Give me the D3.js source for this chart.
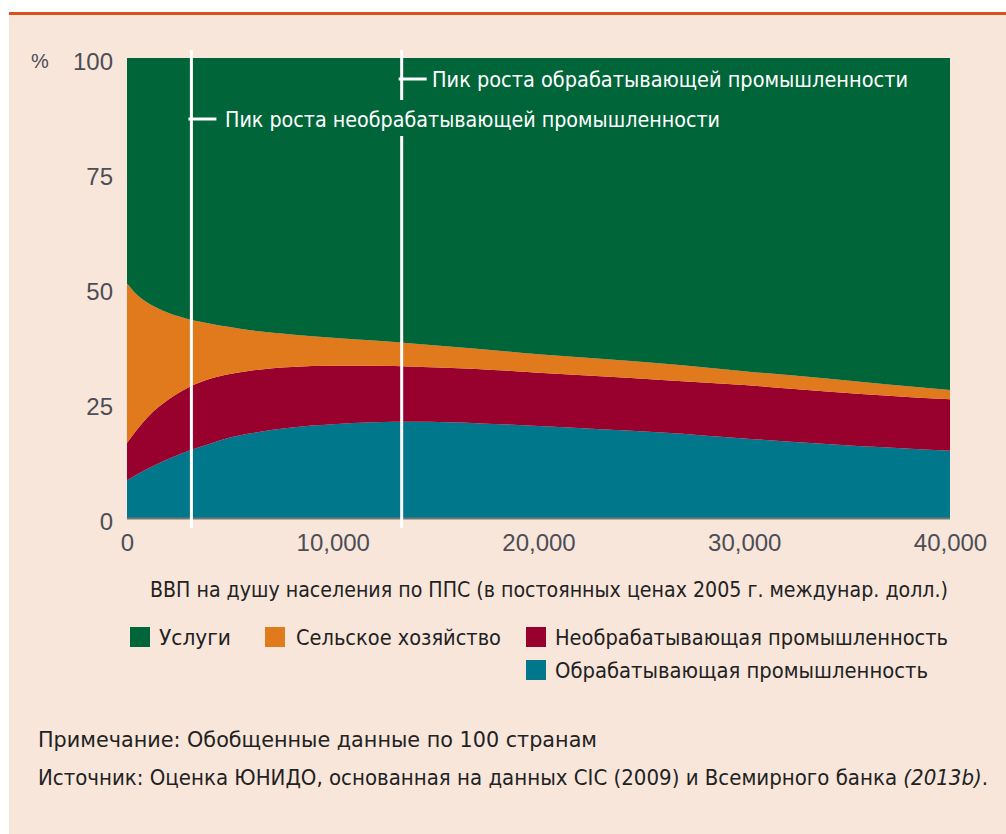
<!DOCTYPE html>
<html>
<head>
<meta charset="utf-8">
<script src="https://cdn.jsdelivr.net/npm/d3@7"></script>
<style>
  html, body { margin: 0; padding: 0; background: #ffffff; }
  svg { display: block; }
  text { font-family: "Liberation Sans Narrow", "DejaVu Sans Condensed", "Liberation Sans", sans-serif; }
</style>
</head>
<body>
<svg id="chart" width="1006" height="834"></svg>
<script>
// ---------------- DATA ----------------
const gdp = [0, 500, 1000, 1500, 2000, 3000, 4000, 5000, 6000, 8000, 10000, 12000, 14000, 17000, 20000, 23000, 26000, 30000, 34000, 37000, 40000];
const manufacturing    = [8.2, 9.5, 10.7, 11.8, 12.8, 14.6, 16.1, 17.5, 18.4, 19.7, 20.4, 20.8, 20.9, 20.6, 20.0, 19.3, 18.6, 17.3, 16.1, 15.3, 14.6];
const nonManufacturing = [8.1, 9.8, 11.2, 12.2, 12.9, 13.8, 14.1, 13.8, 13.6, 13.1, 12.7, 12.3, 12.0, 11.8, 11.6, 11.5, 11.4, 11.6, 11.4, 11.3, 11.2];
const agriculture      = [34.7, 29.2, 24.9, 21.6, 18.9, 14.8, 12.1, 10.2, 8.8, 7.1, 6.1, 5.5, 5.0, 4.4, 4.0, 3.8, 3.6, 3.0, 2.8, 2.4, 2.0];
const services         = [49.0, 51.5, 53.2, 54.4, 55.4, 56.8, 57.7, 58.5, 59.2, 60.1, 60.8, 61.4, 62.1, 63.2, 64.4, 65.4, 66.4, 68.1, 69.7, 71.0, 72.2];

const seriesKeys   = ["manufacturing", "nonManufacturing", "agriculture", "services"];
const seriesNames  = ["Обрабатывающая промышленность", "Необрабатывающая промышленность", "Сельское хозяйство", "Услуги"];
const seriesColors = ["#00778b", "#98002e", "#e07a1c", "#006639"];

const yTicks = [0, 25, 50, 75, 100];
const xTicks = [0, 10000, 20000, 30000, 40000];

const peakGdp    = [3130, 13350];
const peakLabels = ["Пик роста необрабатывающей промышленности", "Пик роста обрабатывающей промышленности"];

const yUnit = "%";
const xTitle = "ВВП на душу населения по ППС (в постоянных ценах 2005 г. междунар. долл.)";
const noteText = "Примечание: Обобщенные данные по 100 странам";
const sourceText = "Источник: Оценка ЮНИДО, основанная на данных CIC (2009) и Всемирного банка ";
const sourceItalic = "(2013b)";

// ---------------- CHART ----------------
const svg = d3.select("#chart");

// background panel
svg.append("rect").attr("x", 9).attr("y", 12).attr("width", 997).attr("height", 822).attr("fill", "#f8e6db");
svg.append("rect").attr("x", 9).attr("y", 12).attr("width", 997).attr("height", 3).attr("fill", "#d9531e");

const x = d3.scaleLinear().domain([0, 40000]).range([127, 950]);
const y = d3.scaleLinear().domain([0, 100]).range([518, 58]);

const rows = gdp.map((g, i) => ({
  gdp: g,
  manufacturing: manufacturing[i],
  nonManufacturing: nonManufacturing[i],
  agriculture: agriculture[i],
  services: services[i]
}));

const stack = d3.stack().keys(seriesKeys);
const layers = stack(rows);

const area = d3.area()
  .x(d => x(d.data.gdp))
  .y0(d => y(d[0]))
  .y1(d => y(Math.min(100, d[1])))
  .curve(d3.curveMonotoneX);

svg.append("g").selectAll("path")
  .data(layers)
  .join("path")
  .attr("d", area)
  .attr("fill", (d, i) => seriesColors[i]);

// baseline
svg.append("line")
  .attr("x1", x(0)).attr("x2", x(40000))
  .attr("y1", y(0) + 0.5).attr("y2", y(0) + 0.5)
  .attr("stroke", "#777777").attr("stroke-width", 2);

// y axis
const yAxis = svg.append("g")
  .attr("transform", `translate(${x(0)},0)`)
  .call(d3.axisLeft(y).tickValues(yTicks).tickSize(0).tickPadding(14));
yAxis.select(".domain").remove();
yAxis.selectAll("text")
  .attr("dy", "0.48em")
  .style("font-family", "'Liberation Sans', Arial, sans-serif")
  .style("font-size", "24px")
  .attr("fill", "#4d4d55");

// x axis
const xAxis = svg.append("g")
  .attr("transform", `translate(0,${y(0)})`)
  .call(d3.axisBottom(x).tickValues(xTicks).tickSize(0).tickPadding(16).tickFormat(d3.format(",")));
xAxis.select(".domain").remove();
xAxis.selectAll("text")
  .style("font-family", "'Liberation Sans', Arial, sans-serif")
  .style("font-size", "24px")
  .attr("fill", "#4d4d55");

// unit
svg.append("text")
  .attr("x", 40).attr("y", 68)
  .attr("text-anchor", "middle")
  .style("font-family", "'Liberation Sans', Arial, sans-serif")
  .style("font-size", "20px")
  .attr("fill", "#4d4d55")
  .text(yUnit);

// peak lines
const lineTop = 50, lineBottom = 528;
const gapTop = 100, gapBottom = 136;
peakGdp.forEach((g, i) => {
  const px = x(g);
  if (i === 1) {
    svg.append("line").attr("x1", px).attr("x2", px).attr("y1", lineTop).attr("y2", gapTop)
      .attr("stroke", "#ffffff").attr("stroke-width", 3);
    svg.append("line").attr("x1", px).attr("x2", px).attr("y1", gapBottom).attr("y2", lineBottom)
      .attr("stroke", "#ffffff").attr("stroke-width", 3);
  } else {
    svg.append("line").attr("x1", px).attr("x2", px).attr("y1", lineTop).attr("y2", lineBottom)
      .attr("stroke", "#ffffff").attr("stroke-width", 3);
  }
});
// annotation ticks + labels
const annY = [119, 79];
const annLen = [[225, 720], [432, 908]];
peakGdp.forEach((g, i) => {
  const px = x(g);
  svg.append("line")
    .attr("x1", px - 3).attr("x2", px + 25)
    .attr("y1", annY[i]).attr("y2", annY[i])
    .attr("stroke", "#ffffff").attr("stroke-width", 3);
  svg.append("text")
    .attr("x", annLen[i][0]).attr("y", annY[i] + 8)
    .attr("textLength", annLen[i][1] - annLen[i][0])
    .attr("lengthAdjust", "spacingAndGlyphs")
    .style("font-size", "22px")
    .attr("fill", "#ffffff")
    .text(peakLabels[i]);
});

// x title
svg.append("text")
  .attr("x", 150).attr("y", 597)
  .attr("textLength", 798)
  .attr("lengthAdjust", "spacingAndGlyphs")
  .style("font-size", "22px")
  .attr("fill", "#222222")
  .text(xTitle);

// legend
const legendOrder = [3, 2, 1, 0];
const legendPos = [[130, 627, 159, 231], [265, 627, 296, 501], [526, 627, 555, 948], [526, 660, 555, 928]];
legendOrder.forEach((si, k) => {
  const p = legendPos[k];
  svg.append("rect")
    .attr("x", p[0]).attr("y", p[1]).attr("width", 20).attr("height", 20)
    .attr("fill", seriesColors[si]);
  svg.append("text")
    .attr("x", p[2]).attr("y", p[1] + 18)
    .attr("textLength", p[3] - p[2])
    .attr("lengthAdjust", "spacingAndGlyphs")
    .style("font-size", "22px")
    .attr("fill", "#222222")
    .text(seriesNames[si]);
});

// footnotes
svg.append("text")
  .attr("x", 38).attr("y", 747)
  .attr("textLength", 559)
  .attr("lengthAdjust", "spacingAndGlyphs")
  .style("font-size", "21px")
  .attr("fill", "#222222")
  .text(noteText);

const src = svg.append("text")
  .attr("x", 38).attr("y", 785)
  .attr("textLength", 950)
  .attr("lengthAdjust", "spacingAndGlyphs")
  .style("font-size", "21px")
  .attr("fill", "#222222");
src.append("tspan").text(sourceText);
src.append("tspan").style("font-style", "italic").text(sourceItalic);
src.append("tspan").text(".");
</script>
</body>
</html>
